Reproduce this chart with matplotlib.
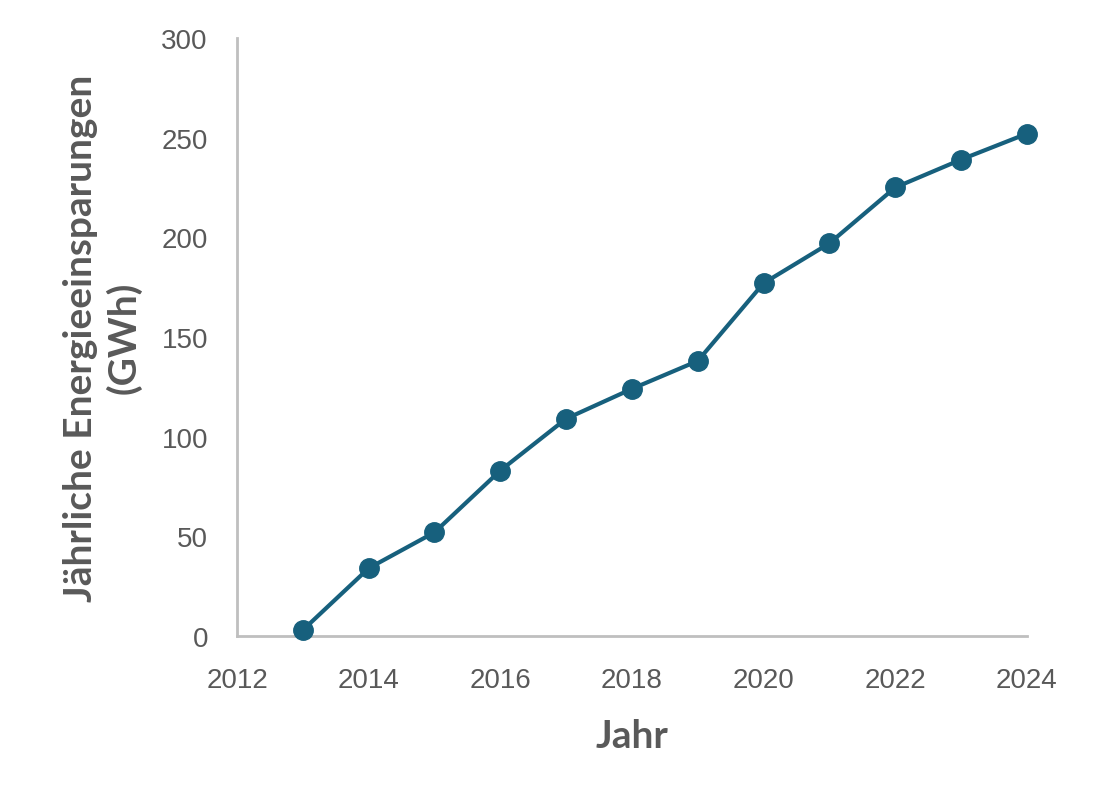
import matplotlib
matplotlib.use('Agg')
import matplotlib.pyplot as plt

years = [2013, 2014, 2015, 2016, 2017, 2018, 2019, 2020, 2021, 2022, 2023, 2024]
savings = [3, 34, 52, 83, 109, 124, 138, 177, 197, 225, 239, 252]
x_ticks = [2012, 2014, 2016, 2018, 2020, 2022, 2024]
y_ticks = [0, 50, 100, 150, 200, 250, 300]

LINE = '#17607d'
TICK = '#595959'
LABEL = '#595959'

plt.rcParams['font.family'] = ['Lato', 'DejaVu Sans']

fig = plt.figure(figsize=(11, 8.04), dpi=100)
ax = fig.add_axes([0.2155, 0.2077, 0.718, 0.7438])

ax.plot(years, savings, color=LINE, linewidth=3, marker='o', markersize=14,
        clip_on=False, zorder=3)

ax.set_xlim(2012, 2024)
ax.set_ylim(0, 300)
ax.set_xticks(x_ticks)
ax.set_yticks(y_ticks)
ax.tick_params(length=0, labelsize=20, labelcolor=TICK)
ax.tick_params(axis='y', pad=21)
ax.tick_params(axis='x', pad=22)
for lbl in ax.get_xticklabels() + ax.get_yticklabels():
    lbl.set_family(['Liberation Sans', 'DejaVu Sans'])

for s in ['top', 'right']:
    ax.spines[s].set_visible(False)
for s in ['left', 'bottom']:
    ax.spines[s].set_color('#bfbfbf')
    ax.spines[s].set_linewidth(2)

ax.set_xlabel('Jahr', fontsize=28, fontweight='bold', color=LABEL, labelpad=18)
ax.set_ylabel('Jährliche Energieeinsparungen\n(GWh)', fontsize=28,
              fontweight='bold', color=LABEL, labelpad=14, linespacing=1.25)

fig.savefig('out.png', dpi=100)
